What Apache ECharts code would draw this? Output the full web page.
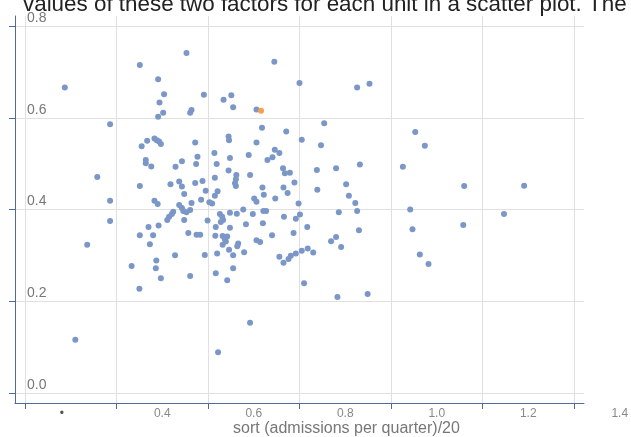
<!DOCTYPE html>
<html>
<head>
<meta charset="utf-8">
<script src="https://cdn.jsdelivr.net/npm/echarts@6/dist/echarts.min.js"></script>
<style>
html,body{margin:0;padding:0;background:#fff;}
#chart{width:631px;height:437px;}
</style>
</head>
<body>
<div id="chart"></div>
<script>
// ---- data ----
const headerText = 'values of these two factors for each unit in a scatter plot. The';
const xTitle = 'sort (admissions per quarter)/20';
const xLabelValues = [0.2, 0.4, 0.6, 0.8, 1.0, 1.2, 1.4];
const xLabelTexts = ['•', '0.4', '0.6', '0.8', '1.0', '1.2', '1.4'];
const xGridValues = [0.1, 0.3, 0.5, 0.7, 0.9, 1.1, 1.3];
const yTickValues = [0.0, 0.2, 0.4, 0.6, 0.8];
const yTickTexts = ['0.0', '0.2', '0.4', '0.6', '0.8'];

const unitX = [0.187,0.286,0.258,0.286,0.286,0.236,0.210,0.333,0.351,0.355,0.351,0.351,0.350,0.453,0.391,0.404,0.394,0.402,0.391,0.461,
0.464,0.491,0.534,0.551,0.555,0.645,0.700,0.606,0.618,0.671,0.705,0.747,0.367,0.383,0.388,0.393,0.397,0.472,0.545,0.546,
0.606,0.514,0.477,0.548,0.589,0.646,0.656,0.630,0.641,0.364,0.364,0.376,0.443,0.429,0.474,0.519,0.545,0.562,0.561,0.559,
0.561,0.592,0.664,0.668,0.679,0.738,0.437,0.443,0.488,0.515,0.826,0.853,0.754,0.780,0.832,0.953,0.974,0.926,0.418,0.472,
0.689,0.739,0.448,0.495,0.521,0.515,0.619,0.622,0.665,0.674,0.647,0.383,0.390,0.485,0.464,0.503,0.509,0.601,0.606,0.698,
0.437,0.443,0.446,0.453,0.461,0.424,0.421,0.415,0.411,0.448,0.499,0.526,0.531,0.533,0.528,0.548,0.563,0.577,0.598,0.621,
0.627,0.666,0.692,0.701,0.370,0.392,0.380,0.373,0.457,0.475,0.483,0.517,0.548,0.583,0.620,0.516,0.532,0.537,0.542,0.539,
0.532,0.546,0.566,0.564,0.606,0.614,0.640,0.687,0.717,0.579,0.555,0.520,0.493,0.428,0.387,0.386,0.397,0.461,0.517,0.555,
0.542,0.656,0.665,0.676,0.681,0.692,0.705,0.718,0.730,0.710,0.802,0.808,0.822,0.826,0.786,0.830,0.780,0.769,0.791,0.783,
0.849,1.060,1.191,0.942,1.147,0.947,1.058,0.963,0.982,0.592,0.522];
const unitY = [0.666,0.586,0.471,0.419,0.375,0.323,0.116,0.277,0.715,0.538,0.451,0.344,0.227,0.741,0.684,0.651,0.633,0.611,0.602,0.611,
0.617,0.650,0.639,0.649,0.623,0.722,0.676,0.618,0.578,0.570,0.552,0.540,0.550,0.555,0.551,0.548,0.543,0.546,0.559,0.551,
0.546,0.523,0.515,0.512,0.519,0.530,0.523,0.508,0.514,0.508,0.501,0.494,0.505,0.493,0.499,0.499,0.485,0.475,0.466,0.457,
0.451,0.475,0.490,0.479,0.480,0.486,0.461,0.450,0.462,0.469,0.666,0.674,0.588,0.490,0.498,0.569,0.539,0.493,0.455,0.458,
0.459,0.443,0.434,0.441,0.440,0.430,0.448,0.432,0.448,0.436,0.424,0.419,0.412,0.421,0.414,0.416,0.413,0.424,0.417,0.413,
0.410,0.403,0.397,0.394,0.399,0.395,0.390,0.384,0.377,0.377,0.376,0.390,0.384,0.377,0.373,0.393,0.391,0.400,0.390,0.397,
0.397,0.384,0.380,0.389,0.362,0.365,0.344,0.324,0.349,0.345,0.345,0.362,0.360,0.368,0.370,0.343,0.342,0.335,0.341,0.330,
0.323,0.312,0.326,0.320,0.333,0.329,0.344,0.349,0.362,0.307,0.300,0.304,0.301,0.300,0.289,0.272,0.250,0.255,0.261,0.272,
0.246,0.297,0.284,0.292,0.299,0.304,0.310,0.315,0.306,0.239,0.455,0.430,0.414,0.397,0.394,0.355,0.340,0.331,0.318,0.209,
0.216,0.451,0.452,0.400,0.390,0.357,0.366,0.302,0.281,0.153,0.089];
const highlightX = [0.616];
const highlightY = [0.615];

// ---- chart ----
const FONT = '"Liberation Sans", Arial, sans-serif';
const AXIS_COLOR = '#4f6b9b';
const unitData = unitX.map((x, i) => [x, unitY[i]]);
const highlightData = highlightX.map((x, i) => [x, highlightY[i]]);

const chart = echarts.init(document.getElementById('chart'), null, {renderer: 'canvas'});
chart.setOption({
  animation: false,
  backgroundColor: '#ffffff',
  textStyle: {fontFamily: FONT},
  title: {
    text: headerText,
    left: 18,
    top: -11,
    textStyle: {fontSize: 22.4, fontWeight: 'normal', color: '#222', fontFamily: FONT}
  },
  grid: [
    {left: 15, right: 47, top: 16, bottom: 34, containLabel: false, outerBoundsMode: 'none'},
    {left: 15, right: 2.1, top: 16, bottom: 34, containLabel: false, outerBoundsMode: 'none'}
  ],
  xAxis: [
    {
      type: 'value', gridIndex: 0,
      min: 0.07814, max: 1.3219,
      axisLine: {show: true, onZero: false, lineStyle: {color: AXIS_COLOR, width: 1}},
      axisTick: {show: true, inside: false, length: 6, lineStyle: {color: AXIS_COLOR}, customValues: xGridValues},
      axisLabel: {show: false},
      splitLine: {show: true, lineStyle: {color: '#e0e0e0', width: 1}},
      name: xTitle, nameLocation: 'middle', nameGap: 18,
      nameTextStyle: {fontSize: 16, color: '#777', fontFamily: FONT, padding: [0, 0, 0, 94]}
    },
    {
      type: 'value', gridIndex: 1,
      min: 0.07814, max: 1.42,
      axisLine: {show: false},
      axisTick: {show: false},
      splitLine: {show: false},
      axisLabel: {
        show: true, margin: 5, fontSize: 12, color: '#888', fontFamily: FONT,
        customValues: xLabelValues,
        formatter: function (v) {
          const i = xLabelValues.findIndex(t => Math.abs(t - v) < 1e-6);
          const s = i >= 0 ? xLabelTexts[i] : '';
          return s === '•' ? '{b|•}' : s;
        },
        rich: {b: {fontSize: 12, color: '#555', padding: [0, 18, 0, 0], fontFamily: FONT}}
      }
    }
  ],
  yAxis: [
    {
      type: 'value', gridIndex: 0,
      min: -0.0218, max: 0.8218,
      axisLine: {show: true, onZero: false, lineStyle: {color: AXIS_COLOR, width: 1}},
      axisTick: {show: true, inside: false, length: 6, lineStyle: {color: AXIS_COLOR}, customValues: yTickValues},
      splitLine: {show: true, lineStyle: {color: '#e0e0e0', width: 1}},
      axisLabel: {
        show: true, inside: true, margin: 12, fontSize: 14, color: '#777', fontFamily: FONT,
        verticalAlign: 'bottom', padding: [0, 0, 1, 0],
        customValues: yTickValues,
        formatter: function (v) {
          const i = yTickValues.findIndex(t => Math.abs(t - v) < 1e-6);
          return i >= 0 ? yTickTexts[i] : '';
        }
      }
    },
    {
      type: 'value', gridIndex: 1, min: -0.0218, max: 0.8218,
      show: false
    }
  ],
  series: [
    {
      type: 'scatter', xAxisIndex: 0, yAxisIndex: 0,
      data: unitData, symbolSize: 6,
      itemStyle: {color: '#7b97c8', opacity: 1},
      silent: true
    },
    {
      type: 'scatter', xAxisIndex: 0, yAxisIndex: 0,
      data: highlightData, symbolSize: 6,
      itemStyle: {color: '#f5a04c', opacity: 1},
      silent: true, z: 3
    }
  ]
});
</script>
</body>
</html>
